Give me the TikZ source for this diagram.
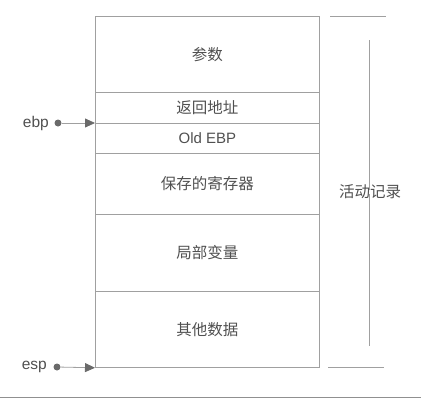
\documentclass[tikz,border=0pt]{standalone}
\usepackage{fontspec}
\setmainfont{Liberation Sans}
\newfontfamily\cjk{Noto Sans CJK SC}
\usetikzlibrary{arrows.meta}
\definecolor{txt}{HTML}{505050}
\definecolor{ln}{HTML}{A0A0A0}
\begin{document}
\begin{tikzpicture}[x=1pt,y=-1pt,
  cell/.style={draw=ln,line width=0.8pt,text=txt,font=\cjk\fontsize{15.5}{17}\selectfont,minimum width=224pt,inner sep=0pt,anchor=north west},
  lbl/.style={text=txt,font=\fontsize{15.5}{17}\selectfont,inner sep=0pt},
  pdot/.style={circle,fill=txt!85,inner sep=0pt,minimum size=7pt},
  parrow/.style={draw=ln,line width=0.8pt,-{Triangle[length=10pt,width=9pt,fill=txt!85,color=txt!85]}},
  tick/.style={draw=ln,line width=0.8pt}]
\useasboundingbox (0,0) rectangle (421,402);
\node[cell,minimum height=76pt] (c1) at (95,16) {参数};
\node[cell,minimum height=31pt] (c2) at (95,92) {返回地址};
\node[cell,minimum height=30pt,font=\fontsize{15}{17}\selectfont] (c3) at (95,123) {Old EBP};
\node[cell,minimum height=61pt] (c4) at (95,153) {保存的寄存器};
\node[cell,minimum height=77pt] (c5) at (95,214) {局部变量};
\node[cell,minimum height=76pt] (c6) at (95,291) {其他数据};
% ebp
\node[lbl,anchor=east] (ebp) at (49,123) {ebp};
\node[pdot] (ed) at (58,123) {};
\draw[parrow] (ed) -- (c3.north west);
% esp
\node[lbl,anchor=east] (esp) at (47,367) {esp};
\node[pdot] (sd) at (57,367) {};
\draw[parrow] (sd) -- (c6.south west);
% activation record bracket
\coordinate (t1) at (330,16);
\coordinate (t2) at (386,16);
\coordinate (b1) at (328,367);
\coordinate (b2) at (384,367);
\draw[tick] (t1) -- (t2);
\draw[tick] (b1) -- (b2);
\node[text=txt,font=\cjk\fontsize{15.5}{17}\selectfont,inner sep=0pt] (ar) at (370,192) {活动记录};
\coordinate (v1) at (369,40);
\coordinate (v2) at (369,346);
\draw[tick] (v1) -- ([yshift=-5pt]ar.north -| v1);
\draw[tick] ([yshift=5pt]ar.south -| v2) -- (v2);
% bottom rule
\coordinate (r1) at (0,397);
\coordinate (r2) at (421,397);
\draw[draw=ln!90!black,line width=0.9pt] (r1) -- (r2);
\end{tikzpicture}
\end{document}
